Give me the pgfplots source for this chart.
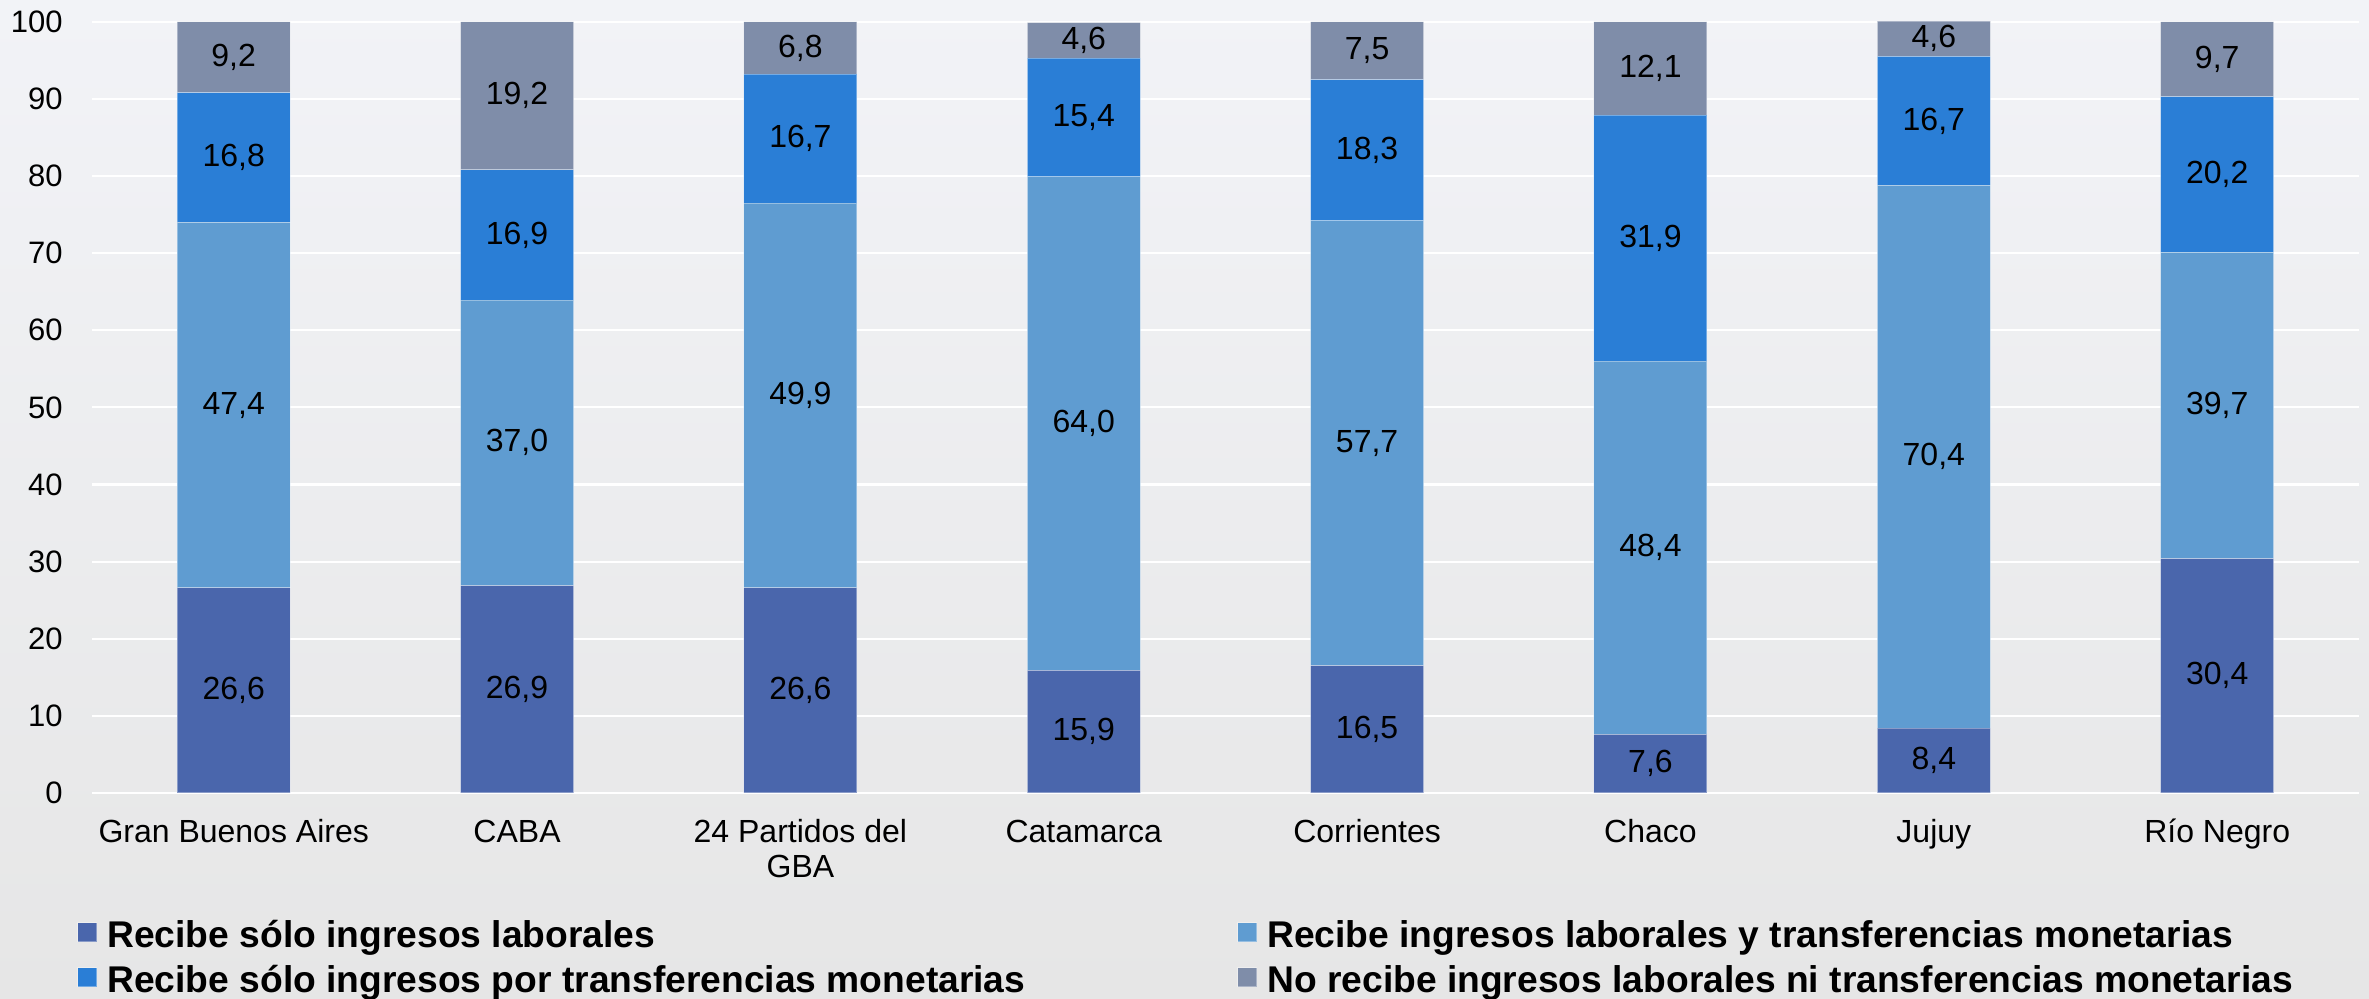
\documentclass[border=0pt]{standalone}
\usepackage{pgfplots}
\pgfplotsset{compat=1.18}
\usepackage{pgfplotstable}
\usepackage{fontspec}
\setmainfont{Liberation Sans}
\definecolor{cA}{HTML}{4A66AC}
\definecolor{cB}{HTML}{5F9CD1}
\definecolor{cC}{HTML}{2A7ED6}
\definecolor{cD}{HTML}{7F8DA9}
\definecolor{bgtop}{HTML}{F2F3F7}
\definecolor{bgbot}{HTML}{E6E6E6}
\newcommand{\fh}{\rule{0pt}{14pt}}
\pgfplotstableread{
x a b c d
0 26.6 47.4 16.8 9.2
1 26.9 37.0 16.9 19.2
2 26.6 49.9 16.7 6.8
3 15.9 64.0 15.4 4.6
4 16.5 57.7 18.3 7.5
5 7.6 48.4 31.9 12.1
6 8.4 70.4 16.7 4.6
7 30.4 39.7 20.2 9.7
}\datatable
\begin{document}
\begin{tikzpicture}
\useasboundingbox (0pt,0pt) rectangle (1184.5pt,499.5pt);
\shade[top color=bgtop, bottom color=bgbot] (0pt,0pt) rectangle (1184.5pt,499.5pt);
\begin{axis}[
  at={(46pt,103pt)}, anchor=south west,
  scale only axis, width=1133.5pt, height=385.6pt,
  ybar stacked, bar width=56.5pt,
  xmin=-0.5, xmax=7.5, ymin=0, ymax=100,
  clip=false,
  axis line style={draw=none}, tick style={draw=none},
  ymajorgrids, grid style={white, line width=1.1pt},
  ytick={0,10,...,100},
  xtick={0,...,7},
  xticklabels={{\fh Gran Buenos Aires}, {\fh CABA}, {\fh 24 Partidos del\\GBA}, {\fh Catamarca}, {\fh Corrientes}, {\fh Chaco}, {\fh Jujuy}, {\fh Río Negro}},
  /pgf/number format/assume math mode=true,
  yticklabel style={font=\fontsize{15.5}{18}\selectfont, inner sep=0pt, anchor=east, xshift=-14.5pt},
  xticklabel style={font=\fontsize{16}{17.5}\selectfont, align=center, inner sep=0pt, anchor=north, yshift=-10.5pt},
  point meta=explicit,
  nodes near coords={\pgfmathprintnumber[fixed,fixed zerofill,precision=1,use comma]{\pgfplotspointmeta}},
  every node near coord/.append style={anchor=center, font=\fontsize{16}{18}\selectfont, text=black},
  legend columns=2,
  legend cell align=left,
  legend style={draw=none, fill=none, inner sep=0pt, at={(-0.0066,-0.1634)}, anchor=north west,
    font=\fontsize{18.6}{21}\selectfont\bfseries,
    nodes={inner sep=0pt, text height=14pt, text depth=4pt},
    row sep=4.5pt,
    /tikz/every odd column/.append style={column sep=5pt},
    /tikz/every even column/.append style={column sep=106pt}},
  legend image code/.code={\fill[#1] (0pt,-2.1pt) rectangle (9.5pt,7.4pt);},
  every axis plot/.append style={draw=white, draw opacity=0.35, line width=0.5pt},
]
\addplot[fill=cA] table[x=x, y=a, meta=a] \datatable;
\addlegendentry{Recibe sólo ingresos laborales}
\addplot[fill=cB] table[x=x, y=b, meta=b] \datatable;
\addlegendentry{Recibe ingresos laborales y transferencias monetarias}
\addplot[fill=cC] table[x=x, y=c, meta=c] \datatable;
\addlegendentry{Recibe sólo ingresos por transferencias monetarias}
\addplot[fill=cD] table[x=x, y=d, meta=d] \datatable;
\addlegendentry{No recibe ingresos laborales ni transferencias monetarias}
\end{axis}
\end{tikzpicture}
\end{document}
